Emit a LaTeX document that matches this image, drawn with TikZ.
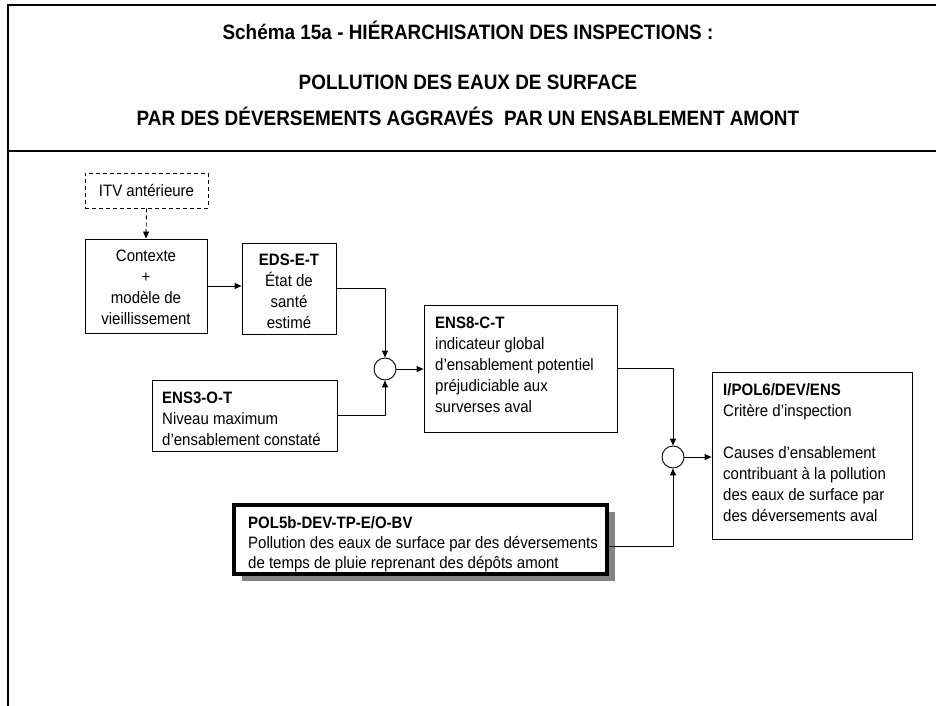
\documentclass[tikz,border=0pt]{standalone}
\usepackage{fontspec}
\setmainfont{Liberation Sans}[FakeStretch=0.91]
\usetikzlibrary{arrows.meta,calc,shadows}
\definecolor{shadowgray}{HTML}{858585}
\begin{document}
\begin{tikzpicture}[x=1pt,y=-1pt,
  every node/.style={font=\fontsize{16.5pt}{21pt}\selectfont, inner sep=0pt},
  box/.style={draw, line width=0.9pt, fill=white},
  txt/.style={anchor=north west, align=left},
  ctxt/.style={anchor=north, align=center},
  junction/.style={draw, circle, line width=0.9pt, minimum size=22pt},
  conn/.style={line width=0.9pt, -{Triangle[length=7pt,width=6pt]}},
  title/.style={anchor=base, font=\fontsize{20.8pt}{24pt}\selectfont\bfseries}]
\useasboundingbox (0,0) rectangle (936,706);
% frame
\draw[line width=2pt] (8,706) -- (8,5) -- (936,5);
\draw[line width=1.5pt] (8,151) -- (936,151);
% titles
\node[title] (t1) at (468,40) {Schéma 15a - HIÉRARCHISATION DES INSPECTIONS :};
\node[title] (t2) at (468,90) {POLLUTION DES EAUX DE SURFACE};
\node[title] (t3) at (468,125) {PAR DES DÉVERSEMENTS AGGRAVÉS~~PAR UN ENSABLEMENT AMONT};
% boxes
\node[box, dash pattern=on 4pt off 3pt, minimum width=123pt, minimum height=35pt] (itv) at (146.5,190.5) {ITV antérieure};
\node[box, minimum width=122pt, minimum height=94pt] (ctx) at (146,286) {};
\node[box, minimum width=94pt, minimum height=91pt] (eds) at (289,288.5) {};
\node[box, minimum width=185pt, minimum height=71pt] (ens3) at (244.5,415.5) {};
\node[box, minimum width=193pt, minimum height=127pt] (ens8) at (520.5,368.5) {};
\node[box, minimum width=200pt, minimum height=167pt] (ipol) at (812,455.5) {};
\node[box, line width=3.5pt, minimum width=373pt, minimum height=69pt,
  drop shadow={shadow xshift=8pt, shadow yshift=-7pt, opacity=1, fill=shadowgray}] (pol5) at (420.5,539.5) {};
\node[junction] (c1) at (385,369) {};
\node[junction] (c2) at (673,457) {};
% texts
\node[ctxt] (ctxt) at (146,250) {Contexte\\+\\modèle de\\vieillissement};
\node[ctxt] (edst) at (289,254) {\textbf{EDS-E-T}\\État de\\santé\\estimé};
\node[txt] (ens3t) at (162,391.5) {\textbf{ENS3-O-T}\\Niveau maximum\\d’ensablement constaté};
\node[txt] (ens8t) at (435,317) {\textbf{ENS8-C-T}\\indicateur global\\d’ensablement potentiel\\préjudiciable aux\\surverses aval};
\node[txt] (ipolt) at (723,383) {\textbf{I/POL6/DEV/ENS}\\Critère d’inspection\\[21pt]Causes d’ensablement\\contribuant à la pollution\\des eaux de surface par\\des déversements aval};
\node[txt, font=\fontsize{16.5pt}{20pt}\selectfont] (pol5t) at (248,516) {\textbf{POL5b-DEV-TP-E/O-BV}\\Pollution des eaux de surface par des déversements\\de temps de pluie reprenant des dépôts amont};
% connectors
\draw[conn, dash pattern=on 4pt off 3pt] (itv.south) -- (ctx.north);
\draw[conn] (ctx.east) -- (ctx.east -| eds.west);
\draw[conn] (eds.east) -| (c1.north);
\draw[conn] (ens3.east) -| (c1.south);
\draw[conn] (c1.east) -- (c1.east -| ens8.west);
\draw[conn] (ens8.east) -| (c2.north);
\draw[conn] ([yshift=-7pt]pol5.east) -| (c2.south);
\draw[conn] (c2.east) -- (c2.east -| ipol.west);
\end{tikzpicture}
\end{document}
